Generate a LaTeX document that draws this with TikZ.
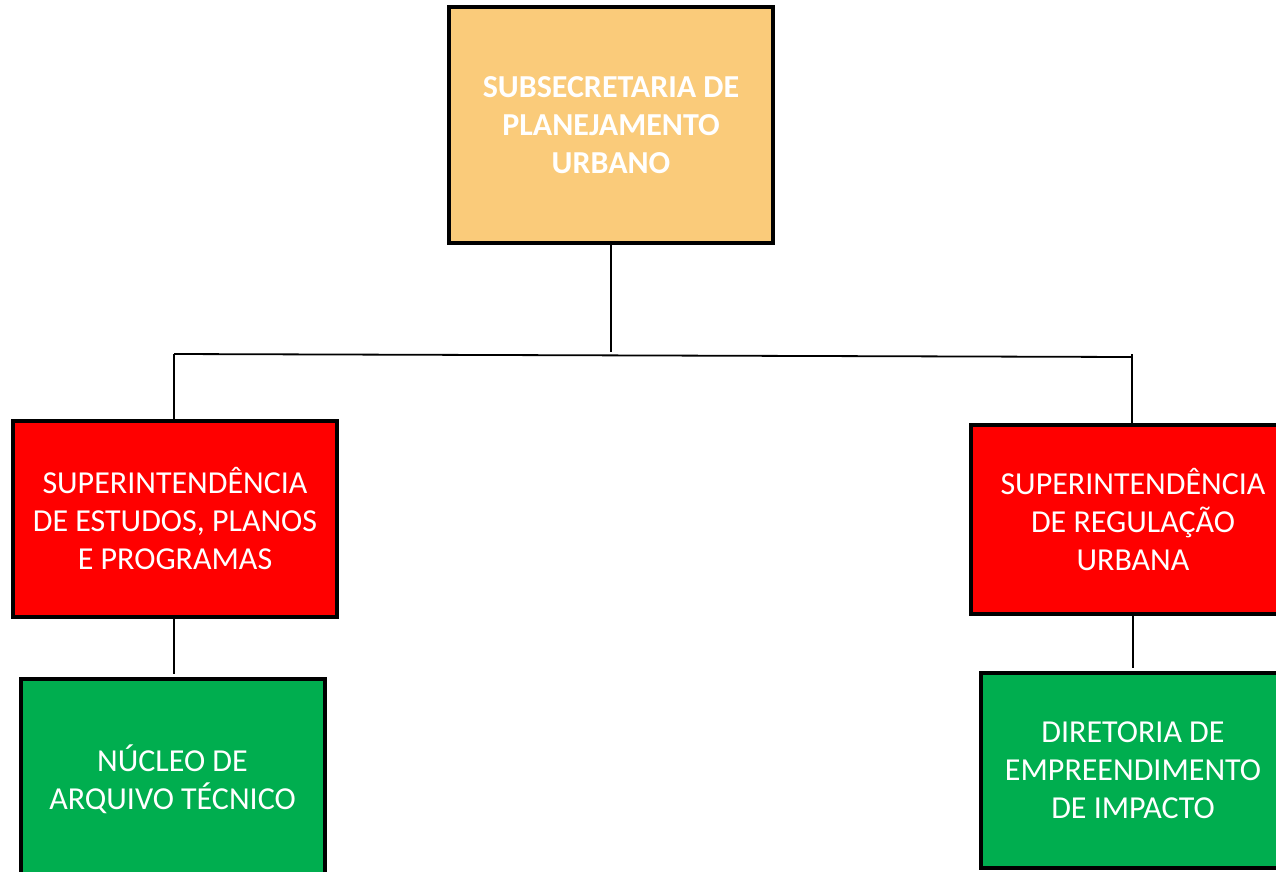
\documentclass[tikz,border=0pt]{standalone}
\usepackage{fontspec}
\setmainfont{Carlito}
\definecolor{topfill}{HTML}{FACB7A}
\definecolor{redfill}{HTML}{FF0000}
\definecolor{greenfill}{HTML}{00AE4F}
\tikzset{
  orgbox/.style={draw=black, line width=4pt, text=white, align=center,
    inner sep=0pt, font=\fontsize{32}{38}\selectfont},
  link/.style={draw=black, line width=1.8pt},
}
\begin{document}
\begin{tikzpicture}[x=1pt,y=-1pt]
\useasboundingbox (0,0) rectangle (1276,871);
\node[orgbox, fill=topfill, minimum width=324pt, minimum height=236pt,
  font=\fontsize{32}{38}\selectfont\bfseries] (top) at (611,125)
  {SUBSECRETARIA DE\\PLANEJAMENTO\\URBANO};
\node[orgbox, fill=redfill, minimum width=324pt, minimum height=196pt] (sepp) at (175,519)
  {SUPERINTENDÊNCIA\\DE ESTUDOS, PLANOS\\E PROGRAMAS};
\node[orgbox, fill=redfill, minimum width=324pt, minimum height=189pt] (sru) at (1133,519.5)
  {SUPERINTENDÊNCIA\\DE REGULAÇÃO\\URBANA};
\node[orgbox, fill=greenfill, minimum width=304pt, minimum height=200pt] (nat) at (172.5,779)
  {NÚCLEO DE\\ARQUIVO TÉCNICO};
\node[orgbox, fill=greenfill, minimum width=304pt, minimum height=195pt] (dei) at (1133,770.5)
  {DIRETORIA DE\\EMPREENDIMENTO\\DE IMPACTO};
\coordinate (mid) at (611,352);
\coordinate (hl) at (174,354);
\coordinate (hr) at (1132,357);
\coordinate (hrt) at (1132,354);
\coordinate (le) at (174,674);
\coordinate (re) at (1133,668);
\draw[link] (top.south) -- (mid);
\draw[link] (hl) -- (hr);
\draw[link] (hl) -- (hl |- sepp.north);
\draw[link] (hrt) -- (hrt |- sru.north);
\draw[link] (sepp.south -| le) -- (le);
\draw[link] (sru.south -| re) -- (re);
\end{tikzpicture}
\end{document}
